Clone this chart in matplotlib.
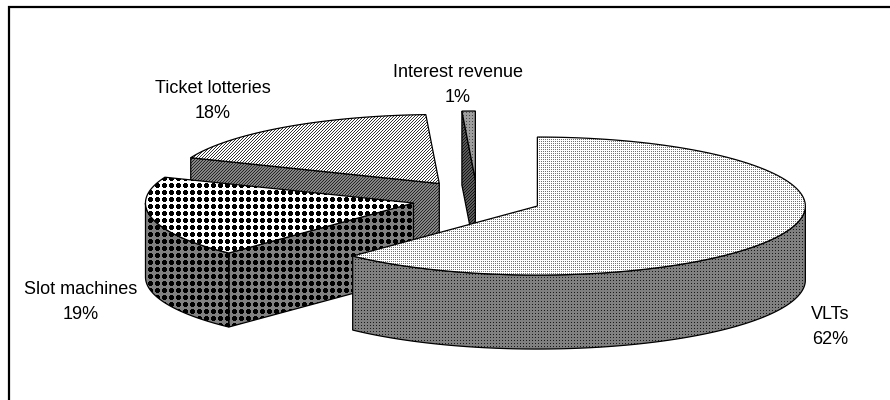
import numpy as np
import matplotlib.pyplot as plt
from matplotlib.patches import Polygon

plt.rcParams["font.family"] = "Liberation Sans"

labels = ["VLTs", "Slot machines", "Ticket lotteries", "Interest revenue"]
shares = [62.1, 19.0, 18.1, 0.8]
percent_labels = ["62%", "19%", "18%", "1%"]

# pie geometry in pixels
cx, cy = 477, 199
rx, ry = 268, 69
depth = 74
explode_x, explode_y = 65, 19

WHITE, BLACK, GREY = 1.0, 0.0, 0.5


def dots(fg, bg, n=3):
    t = np.full((n, n), bg)
    t[n // 2, n // 2] = fg
    return t


def crosses(fg, bg):
    t = np.full((7, 7), bg)
    t[1:6, 2:5] = fg
    t[2:5, 1:6] = fg
    return t


def stripes(fg, bg):
    t = np.full((3, 3), bg)
    for i in range(3):
        t[i, (2 - i) % 3] = fg
    return t


def point(ox, oy, ang):
    a = np.radians(ang)
    return ox + rx * np.sin(a), oy - ry * np.cos(a)


def fill(ax, pts, tile, z):
    # textured polygon: pixel tile clipped to the outline, black edge on top
    pts = np.array(pts)
    x0, y0 = np.floor(pts.min(axis=0)).astype(int)
    x1, y1 = np.ceil(pts.max(axis=0)).astype(int)
    ny, nx = tile.shape
    img = np.tile(tile, ((y1 - y0) // ny + 2, (x1 - x0) // nx + 2))
    img = img[y0 % ny:y0 % ny + y1 - y0, x0 % nx:x0 % nx + x1 - x0]
    patch = Polygon(pts, closed=True, fc="none", ec="black", lw=0.9, zorder=z + 0.1)
    ax.add_patch(patch)
    im = ax.imshow(img, extent=(x0, x1, y1, y0), cmap="gray", vmin=0, vmax=1,
                   interpolation="nearest", aspect="auto", zorder=z)
    im.set_clip_path(patch)


fig = plt.figure(figsize=(8.9, 4.0), dpi=100)
ax = fig.add_axes([0, 0, 1, 1])
ax.set_xlim(0, 890)
ax.set_ylim(400, 0)
ax.axis("off")

# angles clockwise from twelve o'clock
edges = np.concatenate([[0], np.cumsum(shares)]) * 3.6
tops = [dots(0.45, WHITE, 2), crosses(BLACK, WHITE), stripes(0.2, WHITE), dots(0.3, 0.62)]
sides = [dots(0.1, GREY), crosses(BLACK, GREY), stripes(0.15, 0.52), stripes(0.08, 0.35)]
draw_order = [2, 3, 1, 0]

for z, i in enumerate(draw_order):
    start, end = edges[i], edges[i + 1]
    mid = np.radians((start + end) / 2)
    ox = cx + explode_x * np.sin(mid)
    oy = cy - explode_y * np.cos(mid)
    arc = [point(ox, oy, a) for a in np.linspace(start, end, 120)]
    z0 = 2 * z + 2

    # cut faces that look toward the viewer
    if i != 0:
        p = point(ox, oy, start)
        fill(ax, [p, (ox, oy), (ox, oy + depth), (p[0], p[1] + depth)], sides[i], z0)

    # outer rim on the front half
    lo, hi = max(start, 90), min(end, 270)
    if hi > lo:
        rim = [point(ox, oy, a) for a in np.linspace(lo, hi, 120)]
        rim_low = [(x, y + depth) for x, y in rim[::-1]]
        fill(ax, rim + rim_low, sides[i], z0)

    fill(ax, [(ox, oy)] + arc, tops[i], z0 + 1)

# frame, only the left and top edges show in the picture
ax.plot([9, 9, 890], [400, 7, 7], color="black", lw=1.6, zorder=30, solid_joinstyle="miter")

label_pos = [(830, 327), (81, 302), (213, 101), (458, 85)]
for name, pct, (x, y) in zip(labels, percent_labels, label_pos):
    ax.text(x, y, name + "\n" + pct, ha="center", va="center", fontsize=13,
            linespacing=1.55, color="black", zorder=31)

fig.savefig("out.png", dpi=100)
